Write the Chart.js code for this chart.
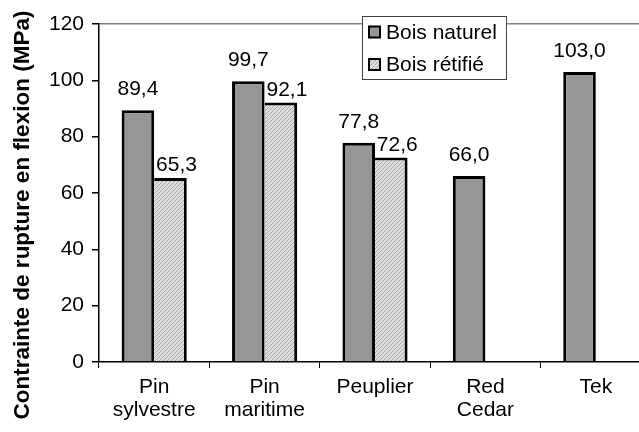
<!DOCTYPE html>
<html>
<head>
<meta charset="utf-8">
<script src="https://cdn.jsdelivr.net/npm/chart.js@4/dist/chart.umd.min.js"></script>
<style>
  html, body { margin: 0; padding: 0; background: #fff; overflow: hidden; }
  #wrap { width: 651px; height: 432px; }
</style>
</head>
<body>
<div id="wrap"><canvas id="chart" width="651" height="432"></canvas></div>
<script>
// ── Data ─────────────────────────────────────────
const categories = [
  ['Pin', 'sylvestre'],
  ['Pin', 'maritime'],
  'Peuplier',
  ['Red', 'Cedar'],
  'Tek',
];
const seriesNames = ['Bois naturel', 'Bois rétifié'];
const boisNaturel = [89.4, 99.7, 77.8, 66.0, 103.0];
const boisRetifie = [65.3, 92.1, 72.6, null, null];
const yTicks = [0, 20, 40, 60, 80, 100, 120];
const yTitle = 'Contrainte de rupture en flexion (MPa)';

const FONT = "'Liberation Sans', Arial, sans-serif";
const TXT = 21;

// hatched fill for the "rétifié" bars
function makeHatch() {
  const c = document.createElement('canvas');
  c.width = 4; c.height = 4;
  const g = c.getContext('2d');
  g.fillStyle = '#dedede';
  g.fillRect(0, 0, 4, 4);
  g.fillStyle = '#a8a8a8';
  for (let i = 0; i < 4; i++) g.fillRect(i, 3 - i, 1, 1);
  return g.createPattern(c, 'repeat');
}
const hatch = makeHatch();

const fmt = (v) => v.toFixed(1).replace('.', ',');

// ── Plugins: value labels, legend box, axis title ──
const valueLabels = {
  id: 'valueLabels',
  afterDatasetsDraw(chart) {
    const ctx = chart.ctx;
    ctx.save();
    ctx.font = TXT + 'px ' + FONT;
    ctx.fillStyle = '#000';
    ctx.textAlign = 'center';
    ctx.textBaseline = 'alphabetic';
    chart.data.datasets.forEach((ds, di) => {
      const meta = chart.getDatasetMeta(di);
      const off = ds.labelOffset;
      meta.data.forEach((bar, i) => {
        const v = ds.data[i];
        if (v == null) return;
        ctx.fillText(fmt(v), bar.x + off.x, bar.y - off.y);
      });
    });
    ctx.restore();
  },
};

const boxLegend = {
  id: 'boxLegend',
  afterDraw(chart) {
    const ctx = chart.ctx;
    const x = 362, y = 16, w = 144, h = 63;
    ctx.save();
    ctx.fillStyle = '#fff';
    ctx.fillRect(x, y, w, h);
    ctx.strokeStyle = '#404040';
    ctx.lineWidth = 1;
    ctx.strokeRect(x + 0.5, y + 0.5, w, h);
    ctx.font = TXT + 'px ' + FONT;
    ctx.textBaseline = 'middle';
    ctx.textAlign = 'left';
    chart.data.datasets.forEach((ds, i) => {
      const cy = 32 + i * 32.5;
      ctx.fillStyle = '#000';
      ctx.fillRect(368, cy - 6.5, 13, 13);
      ctx.fillStyle = ds.backgroundColor;
      ctx.fillRect(370, cy - 4.5, 9, 9);
      ctx.fillStyle = '#000';
      ctx.fillText(ds.label, 386, cy + 1);
    });
    ctx.restore();
  },
};

const sideTitle = {
  id: 'sideTitle',
  afterDraw(chart) {
    const ctx = chart.ctx;
    ctx.save();
    ctx.translate(23, 215);
    ctx.rotate(-Math.PI / 2);
    ctx.font = 'bold 22.5px ' + FONT;
    ctx.fillStyle = '#000';
    ctx.textAlign = 'center';
    ctx.textBaseline = 'middle';
    ctx.fillText(yTitle, 0, 0);
    ctx.restore();
  },
};

// ── Chart ────────────────────────────────────────
new Chart(document.getElementById('chart'), {
  type: 'bar',
  data: {
    labels: categories,
    datasets: [
      {
        label: seriesNames[0],
        data: boisNaturel,
        backgroundColor: '#969696',
        borderColor: '#000',
        borderWidth: { top: 3, left: 3, right: 3, bottom: 0 },
        labelOffset: { x: 0, y: 15 },
      },
      {
        label: seriesNames[1],
        data: boisRetifie,
        backgroundColor: hatch,
        borderColor: '#000',
        borderWidth: { top: 3, left: 0, right: 3, bottom: 0 },
        labelOffset: { x: 6, y: 7 },
      },
    ],
  },
  options: {
    responsive: false,
    animation: false,
    layout: { padding: { top: 24, left: 0, right: 0, bottom: 0 } },
    datasets: {
      bar: {
        categoryPercentage: 0.59,
        barPercentage: 1.0,
        borderSkipped: false,
      },
    },
    plugins: {
      legend: { display: false },
      tooltip: { enabled: false },
    },
    scales: {
      x: {
        offset: true,
        grid: {
          offset: true,
          drawOnChartArea: false,
          drawTicks: true,
          tickLength: 6,
          tickColor: '#000',
        },
        border: { color: '#000', width: 1.5 },
        ticks: {
          color: '#000',
          font: { family: FONT, size: TXT, lineHeight: 1.1 },
          padding: 8,
          maxRotation: 0,
          autoSkip: false,
        },
        afterFit: (s) => { s.height = 70; },
      },
      y: {
        min: yTicks[0],
        max: yTicks[yTicks.length - 1],
        afterBuildTicks: (s) => { s.ticks = yTicks.map((v) => ({ value: v })); },
        grid: {
          color: (c) => (c.tick && c.tick.value === 120 ? '#808080' : 'rgba(0,0,0,0)'),
          tickColor: '#000',
          tickLength: 7,
          lineWidth: 1.5,
        },
        border: { color: '#000', width: 1.5 },
        ticks: {
          color: '#000',
          font: { family: FONT, size: TXT },
          padding: 8,
        },
        afterFit: (s) => { s.width = 99; },
      },
    },
  },
  plugins: [valueLabels, boxLegend, sideTitle],
});
</script>
</body>
</html>
